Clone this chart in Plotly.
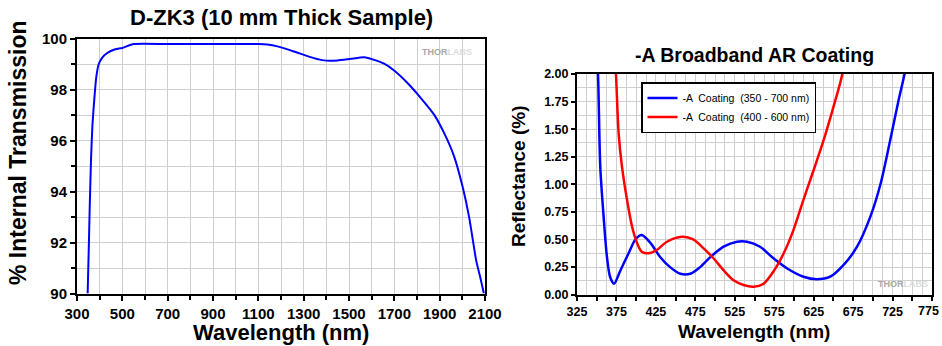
import plotly.graph_objects as go

# ---- Left chart data: D-ZK3 internal transmission (10 mm) ----
zk3_wavelength = [347, 352, 356, 362, 368, 376, 385, 395, 410, 433, 469, 499, 550, 700, 900,
                  1100, 1140, 1184, 1257, 1345, 1390, 1449, 1508, 1567, 1611, 1655, 1699,
                  1758, 1817, 1876, 1920, 1964, 2001, 2030, 2061, 2080, 2095]
zk3_transmission = [90.0, 91.8, 93.35, 95.3, 96.6, 97.6, 98.5, 98.99, 99.25, 99.45, 99.6, 99.65,
                    99.8, 99.8, 99.8, 99.8, 99.78, 99.71, 99.51, 99.25, 99.16, 99.16, 99.22,
                    99.28, 99.18, 99.03, 98.76, 98.27, 97.68, 97.02, 96.3, 95.38, 94.2, 93.0,
                    91.3, 90.6, 90.0]

# ---- Right chart data: -A broadband AR coatings ----
a350_wavelength = [349, 351.6, 354.5, 358.7, 363, 367, 372, 380, 390.4, 399, 407, 418, 430.6,
                   443, 456, 468.6, 481, 494, 510.8, 527.8, 540.5, 557, 574, 591, 612, 629,
                   646, 663, 680, 697, 710, 722, 732.7, 741, 746]
a350_reflectance = [2.3, 2.0, 1.16, 0.71, 0.34, 0.16, 0.10, 0.22, 0.375, 0.50, 0.54, 0.47, 0.34,
                    0.25, 0.19, 0.19, 0.25, 0.34, 0.435, 0.48, 0.48, 0.435, 0.33, 0.24, 0.163,
                    0.14, 0.163, 0.27, 0.435, 0.71, 1.01, 1.40, 1.765, 2.03, 2.3]

a400_wavelength = [372, 374.4, 377.8, 382, 388.4, 394.7, 401, 407, 415.8, 426, 439, 458, 472.8,
                   485.5, 498, 511, 523.5, 536, 549, 561.5, 574, 587, 599.6, 612, 625, 637.6,
                   650, 661, 666]
a400_reflectance = [2.3, 2.0, 1.46, 1.16, 0.86, 0.62, 0.47, 0.39, 0.375, 0.405, 0.48, 0.525, 0.50,
                    0.42, 0.33, 0.22, 0.13, 0.088, 0.073, 0.10, 0.21, 0.375, 0.59, 0.86, 1.13,
                    1.40, 1.70, 1.99, 2.3]

left_xticks = list(range(300, 2101, 200))
left_yticks = list(range(90, 101, 2))
right_xticks = [325 + 25 * i for i in range(19)]
right_xlabels = [str(v) if (v - 325) % 50 == 0 else "" for v in right_xticks]
right_yticks = [0.25 * i for i in range(9)]

FONT = "Liberation Sans, Arial, sans-serif"
GRID = "#cfcfcf"
W, H = 942, 346

def px(x):
    return x / W

def py(y):
    return 1 - y / H

fig = go.Figure()

fig.add_trace(go.Scatter(x=zk3_wavelength, y=zk3_transmission, mode="lines",
                         line=dict(color="#0000ff", width=2, shape="spline", smoothing=0.5),
                         xaxis="x", yaxis="y", showlegend=False))
fig.add_trace(go.Scatter(x=a350_wavelength, y=a350_reflectance, mode="lines",
                         name="-A  Coating  (350 - 700 nm)",
                         line=dict(color="#0000ff", width=2.5, shape="spline", smoothing=0.8),
                         xaxis="x2", yaxis="y2"))
fig.add_trace(go.Scatter(x=a400_wavelength, y=a400_reflectance, mode="lines",
                         name="-A  Coating  (400 - 600 nm)",
                         line=dict(color="#ff0000", width=2.5, shape="spline", smoothing=0.8),
                         xaxis="x2", yaxis="y2"))

tickfont_l = dict(family=FONT, size=15, color="black", weight="bold")
tickfont_r = dict(family=FONT, size=12.5, color="black", weight="bold")

fig.update_layout(
    width=W, height=H,
    margin=dict(l=0, r=0, t=0, b=0, autoexpand=False),
    paper_bgcolor="white", plot_bgcolor="white",
    xaxis=dict(domain=[px(77), px(485)], range=[300, 2100], tickvals=left_xticks,
               showgrid=True, gridcolor=GRID, gridwidth=1, automargin=False,
               ticks="outside", ticklen=5, tickwidth=2, tickcolor="black",
               minor=dict(dtick=100, tick0=300, showgrid=True, gridcolor=GRID,
                          ticks="outside", ticklen=4, tickwidth=2, tickcolor="black"),
               showline=True, linecolor="black", linewidth=2, mirror=True,
               tickfont=tickfont_l, zeroline=False, anchor="y"),
    yaxis=dict(domain=[py(293.5), py(39)], range=[90, 100], tickvals=left_yticks,
               showgrid=True, gridcolor=GRID, gridwidth=1, automargin=False,
               ticks="outside", ticklen=5, tickwidth=2, tickcolor="black",
               minor=dict(dtick=1, tick0=90, showgrid=True, gridcolor=GRID,
                          ticks="outside", ticklen=4, tickwidth=2, tickcolor="black"),
               showline=True, linecolor="black", linewidth=2, mirror=True,
               tickfont=tickfont_l, zeroline=False, anchor="x"),
    xaxis2=dict(domain=[px(577), px(932)], range=[325, 775], tickvals=right_xticks,
                ticktext=right_xlabels,
                showgrid=True, gridcolor=GRID, gridwidth=1, automargin=False,
                ticks="outside", ticklen=4, tickwidth=2, tickcolor="black",
                minor=dict(dtick=12.5, tick0=325, showgrid=True, gridcolor=GRID, ticks=""),
                showline=True, linecolor="black", linewidth=2, mirror=True,
                tickfont=tickfont_r, zeroline=False, anchor="y2"),
    yaxis2=dict(domain=[py(294.7), py(74)], range=[0, 2], tickvals=right_yticks,
                tickformat=".2f",
                showgrid=True, gridcolor=GRID, gridwidth=1, automargin=False,
                ticks="outside", ticklen=4, tickwidth=2, tickcolor="black",
                minor=dict(dtick=0.125, tick0=0, showgrid=True, gridcolor=GRID, ticks=""),
                showline=True, linecolor="black", linewidth=2, mirror=True,
                tickfont=tickfont_r, zeroline=False, anchor="x2"),
    legend=dict(x=px(641), y=py(82), xanchor="left", yanchor="top",
                bgcolor="white", bordercolor="black", borderwidth=1.5,
                font=dict(family=FONT, size=10.5, color="black"),
                tracegroupgap=0, itemwidth=30),
    showlegend=True,
)

def ann(text, x, y, size, angle=0, color="black", xanchor="center"):
    fig.add_annotation(text=text, x=px(x), y=py(y), xref="paper", yref="paper",
                       showarrow=False, textangle=angle, xanchor=xanchor, yanchor="middle",
                       font=dict(family=FONT, size=size, color=color))

ann("<b>D-ZK3 (10 mm Thick Sample)</b>", 281, 17, 22)
ann("<b>Wavelength (nm)</b>", 281, 332, 22)
ann("<b>% Internal Transmission</b>", 18, 153, 23, angle=-90)
ann("<b>-A Broadband AR Coating</b>", 754, 55, 19.5)
ann("<b>Wavelength (nm)</b>", 754, 331, 19)
ann("<b>Reflectance (%)</b>", 518, 176, 19, angle=-90)
ann("<b>THOR</b><span style='color:#dcdcdc'><b>LABS</b></span>", 447, 52, 9, color="#a8a8a8")
ann("<b>THOR</b><span style='color:#dcdcdc'><b>LABS</b></span>", 903, 284, 9, color="#a8a8a8")
# last tick label of the right axis, kept just inside the page edge
ann("<b>775</b>", 941, 311, 12.5, xanchor="right")

fig.write_html("out.html")
